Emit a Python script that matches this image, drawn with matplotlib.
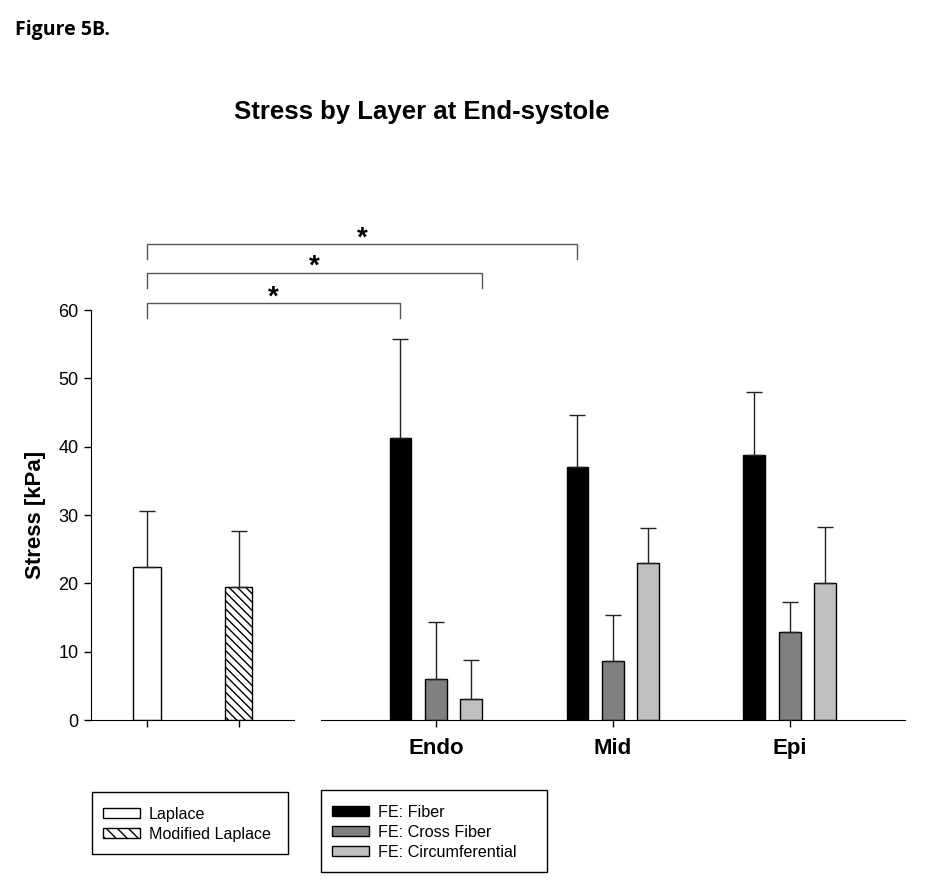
import matplotlib
matplotlib.use("Agg")
import matplotlib.pyplot as plt
from matplotlib.lines import Line2D
from matplotlib.patches import Patch, Rectangle

plt.rcParams['font.family'] = ['Liberation Sans', 'DejaVu Sans']
plt.rcParams['hatch.linewidth'] = 1.0

# data
laplace_labels = ["Laplace", "Modified Laplace"]
laplace_mean = [22.4, 19.5]
laplace_sd = [8.2, 8.2]

layers = ["Endo", "Mid", "Epi"]
fe_labels = ["FE: Fiber", "FE: Cross Fiber", "FE: Circumferential"]
fe_fiber = [41.3, 37.0, 38.8]
fe_fiber_sd = [14.5, 7.6, 9.2]
fe_cross = [6.0, 8.6, 12.9]
fe_cross_sd = [8.3, 6.8, 4.4]
fe_circ = [3.1, 23.0, 20.0]
fe_circ_sd = [5.7, 5.1, 8.2]

# significance: (left bar index, layer index, series index, edge shift)
sig_pairs = [(0, 0, 0, 0.0), (0, 0, 2, 0.5), (0, 1, 0, 0.0)]
sig_heights = [61.0, 65.4, 69.6]

W, H = 930, 884
fig = plt.figure(figsize=(W / 100, H / 100), dpi=100)
ax1 = fig.add_axes([0.0978, 0.1855, 0.218, 0.4638])
ax2 = fig.add_axes([0.345, 0.1855, 0.628, 0.4638])

err_kw = dict(ecolor="#222222", elinewidth=1.0, capsize=6, capthick=1.0)

# left panel: Laplace estimates
xl = [0, 1]
ax1.bar(xl, laplace_mean, width=0.30, color="white", edgecolor="black",
        linewidth=1.0, hatch=["", "\\\\\\\\"],
        yerr=[[0, 0], laplace_sd], error_kw=err_kw, zorder=2)
ax1.set_xlim(-0.61, 1.6)
ax1.set_ylim(0, 60)
ax1.set_yticks(range(0, 61, 10))
ax1.set_xticks(xl)
ax1.set_xticklabels([])
ax1.spines["top"].set_visible(False)
ax1.spines["right"].set_visible(False)
ax1.tick_params(axis="both", direction="out", length=5, width=1, labelsize=13, pad=4)
ax1.set_ylabel("Stress [kPa]", fontsize=16, fontweight="bold", labelpad=9)

# right panel: FE by layer
off = 0.2
w = 0.124
xs = list(range(len(layers)))
series = [(fe_fiber, fe_fiber_sd, "black"),
          (fe_cross, fe_cross_sd, "#808080"),
          (fe_circ, fe_circ_sd, "#c0c0c0")]
for k, (vals, sd, col) in enumerate(series):
    pos = [x + (k - 1) * off for x in xs]
    ax2.bar(pos, vals, width=w, color=col, edgecolor="black", linewidth=1.0,
            yerr=[[0] * len(vals), sd], error_kw=err_kw, zorder=2)
ax2.set_xlim(-0.65, 2.65)
ax2.set_ylim(0, 60)
ax2.set_xticks(xs)
ax2.set_xticklabels(layers, fontsize=16, fontweight="bold")
ax2.set_yticks([])
for s in ["top", "right", "left"]:
    ax2.spines[s].set_visible(False)
ax2.tick_params(axis="x", direction="out", length=5, width=1, pad=8)

# significance brackets
to_fig = fig.transFigure.inverted()
for (li, layer, ser, edge), h in zip(sig_pairs, sig_heights):
    x0, y0 = ax1.transData.transform((xl[li], h))
    x1, _ = ax2.transData.transform((xs[layer] + (ser - 1) * off + edge * w, h))
    _, yd = ax1.transData.transform((0, h - 2.2))
    pts = [(x0, yd), (x0, y0), (x1, y0), (x1, yd)]
    fpts = to_fig.transform(pts)
    fig.add_artist(Line2D(fpts[:, 0], fpts[:, 1], color="#555555", lw=1.0))
    fx, fy = to_fig.transform(((x0 + x1) / 2, y0 - 7))
    fig.text(fx, fy, "*", ha="center", va="bottom", fontsize=20,
             fontweight="bold")

fig.text(0.4535, 0.873, "Stress by Layer at End-systole", ha="center",
         va="center", fontsize=18.5, fontweight="bold")
fig.text(0.016, 0.966, "Figure 5B.", ha="left", va="center", fontsize=14,
         fontweight="bold", family=["Open Sans", "DejaVu Sans"])


# legends: frame boxes drawn separately, legend entries inside
def px_box(x0, y0, x1, y1):
    return Rectangle((x0 / W, 1 - y1 / H), (x1 - x0) / W, (y1 - y0) / H,
                     transform=fig.transFigure, fill=False, edgecolor="black",
                     lw=1.0)


leg_kw = dict(loc="upper left", frameon=False, fontsize=11.6,
              handlelength=2.3, handleheight=0.6, labelspacing=0.3,
              borderpad=0, handletextpad=0.55, borderaxespad=0)

fig.add_artist(px_box(92, 792, 288, 854))
h1 = [Patch(facecolor="white", edgecolor="black", label=laplace_labels[0]),
      Patch(facecolor="white", edgecolor="black", hatch="\\\\\\", label=laplace_labels[1])]
fig.legend(handles=h1, bbox_to_anchor=(103 / W, 1 - 807 / H), **leg_kw)

fig.add_artist(px_box(321, 790, 547, 872))
h2 = [Patch(facecolor=c, edgecolor="black", label=l)
      for (_, _, c), l in zip(series, fe_labels)]
fig.legend(handles=h2, bbox_to_anchor=(332 / W, 1 - 805 / H), **leg_kw)

fig.savefig("out.png", dpi=100)
